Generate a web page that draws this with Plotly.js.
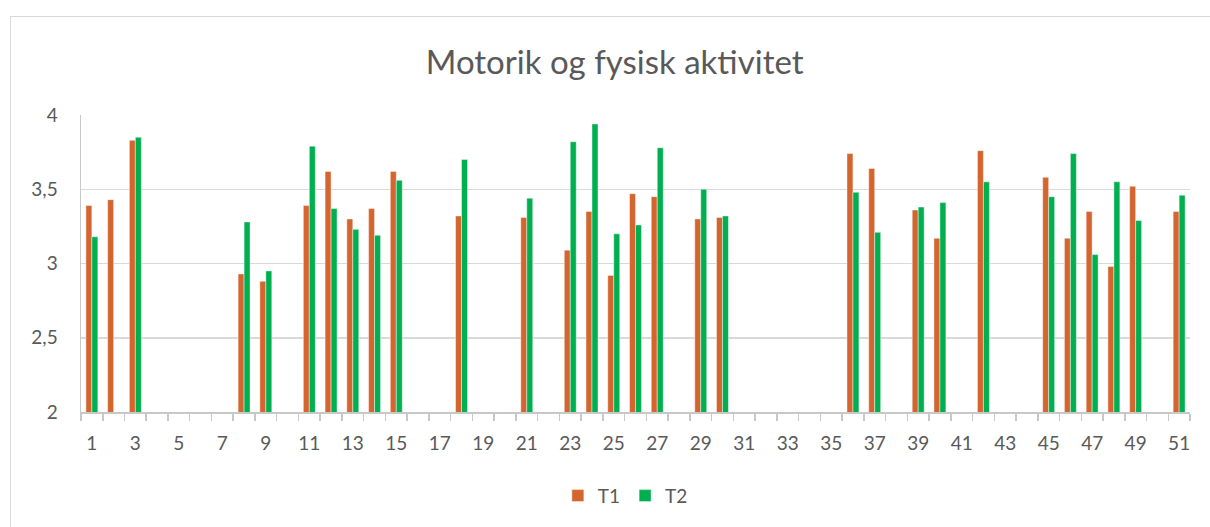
<!DOCTYPE html>
<html>
<head>
<meta charset="utf-8">
<script src="https://cdn.plot.ly/plotly-3.0.1.min.js"></script>
<style>
  html, body { margin: 0; padding: 0; background: #ffffff; }
  #wrap { position: relative; width: 1210px; height: 527px; overflow: hidden; }
  #frame { position: absolute; left: 10px; top: 16px; width: 1300px; height: 600px;
           border: 1.5px solid #d9d9d9; box-sizing: border-box; pointer-events: none; }
  #chart { position: absolute; left: 0; top: 0; width: 1210px; height: 527px; }
</style>
</head>
<body>
<div id="wrap">
  <div id="chart"></div>
  <div id="frame"></div>
</div>
<script>
// Categories 1..51
const categories = [1,2,3,4,5,6,7,8,9,10,11,12,13,14,15,16,17,18,19,20,21,22,23,24,25,26,27,28,29,30,31,32,33,34,35,36,37,38,39,40,41,42,43,44,45,46,47,48,49,50,51];

const t1Values = [3.39,3.43,3.83,null,null,null,null,2.93,2.88,null,
                  3.39,3.62,3.30,3.37,3.62,null,null,3.32,null,null,
                  3.31,null,3.09,3.35,2.92,3.47,3.45,null,3.30,3.31,
                  null,null,null,null,null,3.74,3.64,null,3.36,3.17,
                  null,3.76,null,null,3.58,3.17,3.35,2.98,3.52,null,
                  3.35];

const t2Values = [3.18,null,3.85,null,null,null,null,3.28,2.95,null,
                  3.79,3.37,3.23,3.19,3.56,null,null,3.70,null,null,
                  3.44,null,3.82,3.94,3.20,3.26,3.78,null,3.50,3.32,
                  null,null,null,null,null,3.48,3.21,null,3.38,3.41,
                  null,3.55,null,null,3.45,3.74,3.06,3.55,3.29,null,
                  3.46];

const seriesNames = ['T1', 'T2'];
const xTickVals = [1,3,5,7,9,11,13,15,17,19,21,23,25,27,29,31,33,35,37,39,41,43,45,47,49,51];
const yTickVals = [2, 2.5, 3, 3.5, 4];

const textColor = '#595959';
const fontFam = 'Lato, "Open Sans", sans-serif';

const traces = [
  { type: 'bar', name: seriesNames[0], x: categories, y: t1Values,
    marker: { color: '#D4652F', line: { color: 'rgba(255,255,255,0.55)', width: 0.8 } } },
  { type: 'bar', name: seriesNames[1], x: categories, y: t2Values,
    marker: { color: '#00B050', line: { color: 'rgba(255,255,255,0.55)', width: 0.8 } } }
];

const layout = {
  width: 1210, height: 527,
  paper_bgcolor: 'rgba(0,0,0,0)',
  plot_bgcolor: 'rgba(0,0,0,0)',
  separators: ', ',
  margin: { l: 81, r: 20, t: 115, b: 115 },
  title: { text: 'Motorik og fysisk aktivitet', x: 0.508, xanchor: 'center', y: 0.882, yanchor: 'middle',
           font: { family: fontFam, size: 33, color: textColor } },
  font: { family: fontFam, size: 19, color: textColor },
  barmode: 'group',
  bargap: 0.45,
  bargroupgap: 0,
  showlegend: true,
  legend: { orientation: 'h', x: 0.43, xanchor: 'left', y: -0.282, yanchor: 'middle',
            font: { family: fontFam, size: 19, color: textColor }, itemwidth: 30, traceorder: 'normal' },
  xaxis: {
    type: 'linear',
    range: [0.5, 51.5],
    tickmode: 'array', tickvals: xTickVals,
    ticks: '', showgrid: false, zeroline: false,
    showline: true, linecolor: '#c8c8c8', linewidth: 1.5,
    ticklabelstandoff: 14,
    tickfont: { family: fontFam, size: 19, color: textColor },
    minor: { tick0: 0.5, dtick: 1, ticks: 'outside', ticklen: 7, tickcolor: '#c8c8c8', tickwidth: 1.5, showgrid: false }
  },
  yaxis: {
    range: [2, 4],
    tickmode: 'array', tickvals: yTickVals,
    showgrid: true, gridcolor: '#d9d9d9', gridwidth: 1.5,
    zeroline: false,
    showline: true, linecolor: '#c8c8c8', linewidth: 1.5,
    ticks: '', ticklabelstandoff: 18,
    tickfont: { family: fontFam, size: 19, color: textColor }
  }
};

Plotly.newPlot('chart', traces, layout, { displayModeBar: false, staticPlot: true });
</script>
</body>
</html>
